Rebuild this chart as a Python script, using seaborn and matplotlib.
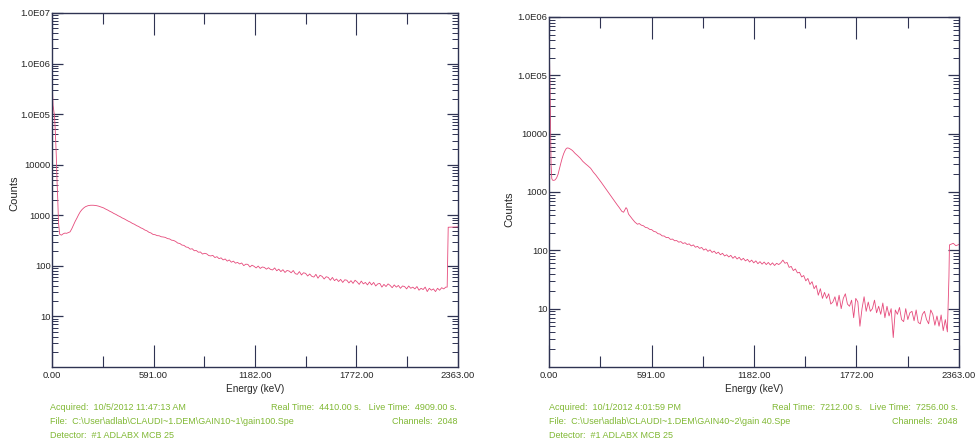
import numpy as np
import pandas as pd
import matplotlib
matplotlib.use("Agg")
import matplotlib.pyplot as plt
import seaborn as sns
from matplotlib.ticker import FixedLocator, NullFormatter

sns.set_style("white")
plt.rcParams["font.family"] = ["Liberation Sans", "DejaVu Sans"]

# ---------------------------------------------------------------- spectrum A (gain 100)
# low-energy part: detector noise spike, valley and Compton hump
e_lo_a = [0, 3, 6, 10, 15, 20, 25, 30, 33, 38, 45, 55, 65, 75, 85, 95, 105, 115,
          125, 135, 145, 155, 165, 175, 185, 195, 210, 225, 240, 255, 270, 285]
c_lo_a = [1100000, 300000, 150000, 120000, 90000, 40000, 15000, 4000, 2300, 700,
          420, 405, 430, 445, 440, 455, 470, 540, 640, 760, 880, 1030, 1180, 1300,
          1400, 1480, 1550, 1580, 1580, 1560, 1520, 1460]
# continuum, one value every 12 keV from 300 keV
cont_start_a = 300
cont_step_a = 12
c_cont_a = [
    1400, 1328, 1270, 1203, 1150, 1086, 1040, 983, 941, 888,
    852, 805, 765, 733, 690, 664, 625, 601, 566, 545,
    512, 494, 462, 447, 418, 413, 396, 393, 376, 372,
    365, 346, 341, 322, 318, 303, 282, 277, 258, 254,
    236, 232, 214, 218, 199, 201, 186, 188, 171, 177,
    173, 160, 157, 161, 146, 152, 139, 144, 131, 137,
    124, 131, 118, 124, 113, 117, 109, 114, 101, 108,
    107, 95, 103, 98, 91, 99, 89, 95, 93, 86,
    92, 85, 83, 91, 80, 86, 77, 84, 74, 81,
    79, 73, 81, 70, 68, 77, 66, 73, 71, 63,
    69, 62, 60, 68, 57, 65, 62, 55, 61, 59,
    52, 59, 51, 55, 49, 54, 47, 53, 52, 46,
    51, 45, 52, 48, 43, 50, 44, 47, 42, 48,
    42, 47, 40, 44, 45, 38, 43, 39, 44, 41,
    37, 42, 38, 41, 36, 40, 39, 35, 40, 36,
    38, 35, 39, 33, 36, 34, 38, 31, 36, 33,
    35, 31, 36, 33, 37, 35, 38,
]
# overflow channels at the top end
e_tail_a = [2300, 2303, 2306, 2363]
c_tail_a = [38, 160, 580, 590]

# ---------------------------------------------------------------- spectrum B (gain 40)
e_lo_b = [0, 3, 6, 9, 12, 16, 20, 28, 36, 44, 52, 60, 68, 76, 84, 92, 100, 108,
          116, 125, 135, 150, 165, 180, 195, 210, 225, 240, 255, 270, 285, 300,
          315, 330, 345, 360, 375, 390, 405, 420, 430, 438, 444, 450, 458, 466,
          480, 495, 510]
c_lo_b = [320000, 200000, 60000, 12000, 3000, 1700, 1600, 1580, 1620, 1750, 2000,
          2500, 3100, 3800, 4500, 5100, 5600, 5700, 5600, 5400, 5150, 4600, 4200,
          3800, 3350, 3050, 2800, 2550, 2200, 1950, 1700, 1480, 1280, 1110, 960,
          830, 720, 620, 540, 465, 450, 500, 540, 510, 420, 390, 345, 305, 280]
cont_start_b = 520
cont_step_b = 12
c_cont_b = [
    288, 270, 264, 247, 243, 229, 226, 211, 207, 193,
    190, 177, 176, 165, 166, 154, 156, 146, 147, 138,
    141, 131, 135, 126, 129, 119, 124, 113, 117, 108,
    112, 101, 106, 96, 102, 92, 97, 88, 93, 84,
    89, 80, 84, 77, 82, 73, 79, 71, 76, 68,
    73, 66, 70, 63, 68, 61, 66, 59, 64, 58,
    63, 57, 62, 56, 61, 55, 60, 57, 61, 68,
    60, 62, 51, 53, 45, 48, 41, 42, 35, 37,
    30, 33, 26, 29, 22, 25, 17, 22, 15, 19,
    15, 18, 12, 13, 16, 11, 17, 10, 15, 18,
    12, 11, 14, 7, 15, 13, 5, 10, 16, 9,
    13, 9, 10, 14, 8.5, 11, 8, 12.5, 7, 11,
    7.5, 10, 3.2, 9.5, 8, 10.5, 6.5, 6, 10, 6.5,
    8.5, 9, 6.2, 9.5, 5.8, 5.5, 8, 9, 6.5, 5.5,
    9.5, 8, 5.2, 7.5, 5, 7.8, 4.2, 6.5, 4,
]
e_tail_b = [2305, 2308, 2330, 2345, 2363]
c_tail_b = [35, 124, 132, 120, 126]

# ---------------------------------------------------------------- axis text
x_ticks = [0, 591, 1182, 1772, 2363]
x_ticklabels = ["0.00", "591.00", "1182.00", "1772.00", "2363.00"]
x_minor = [295.5, 886, 1477, 2067]
y_ticks_a = [10, 100, 1000, 1e4, 1e5, 1e6, 1e7]
y_labels_a = ["10", "100", "1000", "10000", "1.0E05", "1.0E06", "1.0E07"]
y_ticks_b = [10, 100, 1000, 1e4, 1e5, 1e6]
y_labels_b = ["10", "100", "1000", "10000", "1.0E05", "1.0E06"]

info_a = ["Acquired:  10/5/2012 11:47:13 AM",
          r"File:  C:\User\adlab\CLAUDI~1.DEM\GAIN10~1\gain100.Spe",
          "Detector:  #1 ADLABX MCB 25"]
times_a = "Real Time:  4410.00 s.   Live Time:  4909.00 s."
info_b = ["Acquired:  10/1/2012 4:01:59 PM",
          r"File:  C:\User\adlab\CLAUDI~1.DEM\GAIN40~2\gain 40.Spe",
          "Detector:  #1 ADLABX MCB 25"]
times_b = "Real Time:  7212.00 s.   Live Time:  7256.00 s."
channels_text = "Channels:  2048"


def spectrum_frame(e_lo, c_lo, start, step, c_cont, e_tail, c_tail):
    e_cont = start + step * np.arange(len(c_cont))
    energy = np.concatenate([e_lo, e_cont, e_tail]).astype(float)
    counts = np.concatenate([c_lo, c_cont, c_tail]).astype(float)
    return pd.DataFrame({"Energy (keV)": energy, "Counts": counts})


df_a = spectrum_frame(e_lo_a, c_lo_a, cont_start_a, cont_step_a, c_cont_a, e_tail_a, c_tail_a)
df_b = spectrum_frame(e_lo_b, c_lo_b, cont_start_b, cont_step_b, c_cont_b, e_tail_b, c_tail_b)

W, H = 977, 447
fig = plt.figure(figsize=(W / 100, H / 100), dpi=100)
fig.patch.set_facecolor("white")

line_color = "#e64a7b"
frame_color = "#2f3352"
text_green = "#80b834"


def px_axes(x0, x1, y0, y1):
    return fig.add_axes([x0 / W, 1 - y1 / H, (x1 - x0) / W, (y1 - y0) / H])


def style_axes(ax, ymax, yt, yl, ylabel_x, ylabel_y):
    ax.set_yscale("log")
    ax.set_xlim(0, 2363)
    ax.set_ylim(1, ymax)
    ax.set_xticks(x_ticks)
    ax.set_xticklabels(x_ticklabels)
    ax.xaxis.set_minor_locator(FixedLocator(x_minor))
    ax.set_yticks(yt)
    ax.set_yticklabels(yl)
    ax.yaxis.set_minor_locator(FixedLocator(
        [m * 10 ** d for d in range(0, int(np.log10(ymax))) for m in range(2, 10)]))
    ax.yaxis.set_minor_formatter(NullFormatter())
    ax.tick_params(axis="x", which="major", direction="in", length=16, width=0.8,
                   top=True, bottom=True, labelsize=6.8, pad=3, color=frame_color)
    ax.tick_params(axis="x", which="minor", direction="in", length=8, width=0.8,
                   top=True, bottom=True, color=frame_color)
    ax.tick_params(axis="y", which="major", direction="in", length=8, width=0.9,
                   left=True, right=True, labelsize=6.8, pad=1, color=frame_color)
    ax.tick_params(axis="y", which="minor", direction="in", length=4, width=0.7,
                   left=True, right=True, color=frame_color)
    for s in ax.spines.values():
        s.set_color(frame_color)
        s.set_linewidth(1.0)
    ax.set_xlabel("Energy (keV)", fontsize=7.2)
    ax.xaxis.set_label_coords(0.5, -0.048)
    ax.set_ylabel("Counts", fontsize=8)
    ax.yaxis.set_label_coords(ylabel_x, ylabel_y)
    ax.set_facecolor("white")


ax_a = px_axes(52, 458, 13, 367)
sns.lineplot(data=df_a, x="Energy (keV)", y="Counts", ax=ax_a, color=line_color,
             linewidth=0.6, estimator=None, sort=False)
style_axes(ax_a, 1e7, y_ticks_a, y_labels_a, -0.08, 0.49)

ax_b = px_axes(549, 959, 17, 367)
sns.lineplot(data=df_b, x="Energy (keV)", y="Counts", ax=ax_b, color=line_color,
             linewidth=0.6, estimator=None, sort=False)
style_axes(ax_b, 1e6, y_ticks_b, y_labels_b, -0.085, 0.45)


def info_block(x_left, x_right, lines, times):
    rows = [407, 421, 435]
    for y, t in zip(rows, lines):
        fig.text(x_left / W, 1 - y / H, t, fontsize=6.5, color=text_green,
                 ha="left", va="center")
    fig.text(x_right / W, 1 - rows[0] / H, times, fontsize=6.5, color=text_green,
             ha="right", va="center")
    fig.text(x_right / W, 1 - rows[1] / H, channels_text, fontsize=6.5,
             color=text_green, ha="right", va="center")


info_block(50, 457, info_a, times_a)
info_block(549, 958, info_b, times_b)

fig.savefig("out.png", dpi=100, facecolor="white")
